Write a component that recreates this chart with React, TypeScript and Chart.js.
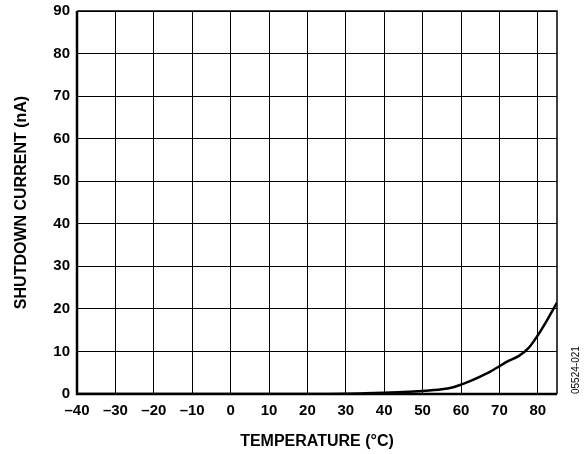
import React, { useEffect, useRef } from "react";
import { Chart, registerables } from "chart.js";

Chart.register(...registerables);

const temperatures = [-40, -30, -20, -10, 0, 10, 20, 30, 35, 40, 45, 50, 55, 58, 60, 62.5, 65, 67.5, 70, 72, 75, 77.5, 80, 82.5, 85];
const currents = [0, 0, 0, 0, 0, 0, 0, 0.05, 0.15, 0.3, 0.45, 0.7, 1.1, 1.6, 2.2, 3.1, 4.1, 5.2, 6.5, 7.6, 8.9, 10.7, 13.8, 17.5, 21.5];
const xTickValues = [-40, -30, -20, -10, 0, 10, 20, 30, 40, 50, 60, 70, 80];
const yTickValues = [0, 10, 20, 30, 40, 50, 60, 70, 80, 90];
const xTitle = "TEMPERATURE (°C)";
const yTitle = "SHUTDOWN CURRENT (nA)";
const figureCode = "05524-021";

const FONT = "'Liberation Sans', Arial, Helvetica, sans-serif";

const framePlugin = {
  id: "frame",
  afterDraw(chart: any) {
    const { ctx, chartArea } = chart;
    const { left, right, top, bottom } = chartArea;
    ctx.save();
    ctx.strokeStyle = "#000";
    ctx.lineWidth = 1.5;
    ctx.beginPath();
    ctx.moveTo(left, top);
    ctx.lineTo(right, top);
    ctx.lineTo(right, bottom);
    ctx.stroke();
    ctx.lineWidth = 2.5;
    ctx.beginPath();
    ctx.moveTo(left, top);
    ctx.lineTo(left, bottom);
    ctx.lineTo(right, bottom);
    ctx.stroke();
    ctx.fillStyle = "#000";
    ctx.font = `10px ${FONT}`;
    ctx.translate(576, bottom);
    ctx.rotate(-Math.PI / 2);
    ctx.textAlign = "left";
    ctx.textBaseline = "middle";
    ctx.fillText(figureCode, 0, 0);
    ctx.restore();
  },
};

export default function App() {
  const ref = useRef<HTMLCanvasElement>(null);
  useEffect(() => {
    if (!ref.current) return;
    const chart = new Chart(ref.current, {
      type: "line",
      data: {
        datasets: [
          {
            data: temperatures.map((t, i) => ({ x: t, y: currents[i] })),
            borderColor: "#000",
            borderWidth: 2.5,
            pointRadius: 0,
            tension: 0.3,
            fill: false,
          },
        ],
      },
      options: {
        responsive: false,
        animation: false,
        layout: { padding: { left: 0, right: 30, top: 11, bottom: 0 } },
        plugins: { legend: { display: false }, tooltip: { enabled: false } },
        scales: {
          x: {
            type: "linear",
            min: -40,
            max: 85,
            afterBuildTicks: (s: any) => {
              s.ticks = xTickValues.map((v) => ({ value: v }));
            },
            afterFit: (s: any) => {
              s.height = 60;
              s.paddingLeft = 0;
              s.paddingRight = 0;
            },
            ticks: {
              padding: 8,
              autoSkip: false,
              maxRotation: 0,
              color: "#000",
              font: { family: FONT, size: 15, weight: "bold" },
              callback: (v: any) => (v < 0 ? "\u2013" + Math.abs(v) : String(v)),
            },
            grid: { color: "#000", lineWidth: 1, drawTicks: false },
            border: { display: false },
            title: {
              display: true,
              text: xTitle,
              color: "#000",
              font: { family: FONT, size: 16, weight: "bold" },
              padding: { top: 0, bottom: 3 },
            },
          },
          y: {
            min: 0,
            max: 90,
            afterBuildTicks: (s: any) => {
              s.ticks = yTickValues.map((v) => ({ value: v }));
            },
            afterFit: (s: any) => {
              s.width = 77;
              s.paddingTop = 0;
              s.paddingBottom = 0;
            },
            ticks: {
              padding: 7,
              autoSkip: false,
              color: "#000",
              font: { family: FONT, size: 15, weight: "bold" },
            },
            grid: { color: "#000", lineWidth: 1, drawTicks: false },
            border: { display: false },
            title: {
              display: true,
              text: yTitle,
              color: "#000",
              font: { family: FONT, size: 16, weight: "bold" },
              padding: { top: 12, bottom: 0 },
            },
          },
        },
      },
      plugins: [framePlugin],
    });
    return () => chart.destroy();
  }, []);
  return (
    <div style={{ position: "absolute", left: 0, top: 0, width: 587, height: 454, background: "#fff" }}>
      <canvas ref={ref} width={587} height={454} />
    </div>
  );
}
